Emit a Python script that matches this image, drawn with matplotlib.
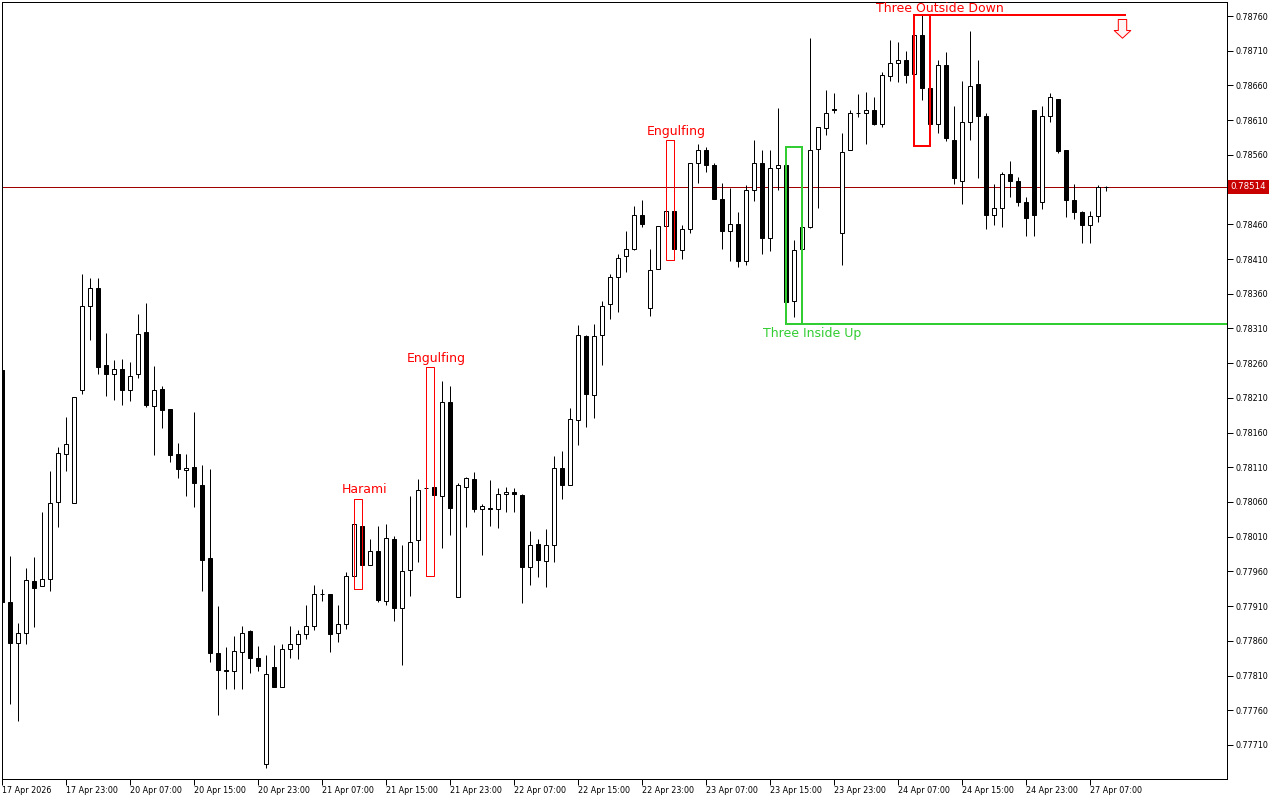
import numpy as np
import matplotlib
matplotlib.use('Agg')
import matplotlib.pyplot as plt
from matplotlib.path import Path
from matplotlib.patches import Rectangle

# hourly candles, 17 Apr 15:00 -> 27 Apr 09:00
opens = [0.78250, 0.77916, 0.77857, 0.77871, 0.77946, 0.77939, 0.77949, 0.78060, 0.78129, 0.78058,
         0.78221, 0.78342, 0.78368, 0.78257, 0.78244, 0.78251, 0.78222, 0.78244, 0.78305, 0.78198,
         0.78223, 0.78194, 0.78129, 0.78106, 0.78110, 0.78084, 0.77979, 0.77842, 0.77818, 0.77816,
         0.77844, 0.77874, 0.77835, 0.77682, 0.77822, 0.77793, 0.77848, 0.77855, 0.77870, 0.77881,
         0.77927, 0.77927, 0.77872, 0.77884, 0.77953, 0.78026, 0.77969, 0.77989, 0.77918, 0.78006,
         0.77907, 0.77962, 0.78005, 0.78080, 0.78082, 0.78068, 0.78204, 0.77923, 0.78081, 0.78093,
         0.78050, 0.78052, 0.78050, 0.78071, 0.78074, 0.78070, 0.77966, 0.77999, 0.77975, 0.77998,
         0.78109, 0.78084, 0.78178, 0.78299, 0.78214, 0.78300, 0.78345, 0.78384, 0.78414, 0.78425,
         0.78473, 0.78340, 0.78395, 0.78457, 0.78479, 0.78423, 0.78453, 0.78549, 0.78567, 0.78546,
         0.78496, 0.78451, 0.78460, 0.78407, 0.78510, 0.78549, 0.78440, 0.78541, 0.78546, 0.78350,
         0.78424, 0.78456, 0.78568, 0.78598, 0.78626, 0.78448, 0.78567, 0.78621, 0.78621, 0.78624,
         0.78605, 0.78673, 0.78692, 0.78696, 0.78676, 0.78732, 0.78657, 0.78605, 0.78690, 0.78582,
         0.78523, 0.78607, 0.78662, 0.78616, 0.78473, 0.78484, 0.78533, 0.78522, 0.78492, 0.78624,
         0.78492, 0.78616, 0.78641, 0.78567, 0.78495, 0.78477, 0.78459, 0.78472, 0.78514]
highs = [0.78253, 0.77982, 0.77885, 0.77965, 0.77981, 0.78046, 0.78105, 0.78139, 0.78182, 0.78211,
         0.78388, 0.78383, 0.78383, 0.78303, 0.78265, 0.78266, 0.78262, 0.78331, 0.78347, 0.78256,
         0.78227, 0.78194, 0.78145, 0.78129, 0.78190, 0.78113, 0.78108, 0.77910, 0.77851, 0.77867,
         0.77881, 0.77875, 0.77852, 0.77839, 0.77854, 0.77855, 0.77881, 0.77875, 0.77912, 0.77940,
         0.77935, 0.77927, 0.77911, 0.77959, 0.78064, 0.78056, 0.78006, 0.78025, 0.78029, 0.78011,
         0.77998, 0.78068, 0.78093, 0.78254, 0.78172, 0.78235, 0.78227, 0.78088, 0.78096, 0.78103,
         0.78057, 0.78091, 0.78080, 0.78081, 0.78080, 0.78071, 0.78018, 0.78006, 0.78021, 0.78126,
         0.78133, 0.78196, 0.78315, 0.78301, 0.78317, 0.78350, 0.78389, 0.78417, 0.78451, 0.78486,
         0.78495, 0.78425, 0.78457, 0.78484, 0.78581, 0.78459, 0.78549, 0.78575, 0.78572, 0.78549,
         0.78520, 0.78513, 0.78477, 0.78516, 0.78582, 0.78567, 0.78567, 0.78628, 0.78571, 0.78437,
         0.78483, 0.78729, 0.78600, 0.78654, 0.78649, 0.78592, 0.78624, 0.78647, 0.78650, 0.78644,
         0.78679, 0.78726, 0.78722, 0.78709, 0.78742, 0.78761, 0.78695, 0.78696, 0.78708, 0.78631,
         0.78667, 0.78739, 0.78696, 0.78621, 0.78518, 0.78535, 0.78551, 0.78528, 0.78500, 0.78624,
         0.78631, 0.78649, 0.78641, 0.78567, 0.78518, 0.78479, 0.78479, 0.78516, 0.78515]
lows = [0.77912, 0.77769, 0.77744, 0.77855, 0.77880, 0.77939, 0.77932, 0.78024, 0.78104, 0.78058,
        0.78216, 0.78294, 0.78245, 0.78213, 0.78207, 0.78200, 0.78206, 0.78238, 0.78197, 0.78127,
        0.78167, 0.78117, 0.78095, 0.78069, 0.78053, 0.77932, 0.77830, 0.77753, 0.77790, 0.77791,
        0.77791, 0.77814, 0.77817, 0.77677, 0.77793, 0.77793, 0.77836, 0.77834, 0.77862, 0.77875,
        0.77918, 0.77844, 0.77858, 0.77877, 0.77934, 0.77967, 0.77969, 0.77916, 0.77911, 0.77889,
        0.77825, 0.77924, 0.77973, 0.77953, 0.78046, 0.77994, 0.78012, 0.77923, 0.78024, 0.78046,
        0.77984, 0.78026, 0.78022, 0.78046, 0.78045, 0.77914, 0.77940, 0.77952, 0.77937, 0.77973,
        0.78065, 0.78084, 0.78142, 0.78168, 0.78181, 0.78258, 0.78323, 0.78334, 0.78392, 0.78423,
        0.78456, 0.78328, 0.78395, 0.78457, 0.78408, 0.78410, 0.78447, 0.78520, 0.78536, 0.78496,
        0.78425, 0.78407, 0.78399, 0.78402, 0.78493, 0.78417, 0.78421, 0.78510, 0.78316, 0.78326,
        0.78420, 0.78455, 0.78484, 0.78588, 0.78620, 0.78402, 0.78567, 0.78614, 0.78575, 0.78603,
        0.78600, 0.78666, 0.78665, 0.78663, 0.78663, 0.78639, 0.78573, 0.78592, 0.78580, 0.78518,
        0.78489, 0.78582, 0.78526, 0.78453, 0.78459, 0.78456, 0.78499, 0.78487, 0.78443, 0.78443,
        0.78482, 0.78607, 0.78562, 0.78470, 0.78467, 0.78433, 0.78433, 0.78464, 0.78508]
closes = [0.77916, 0.77857, 0.77871, 0.77947, 0.77936, 0.77949, 0.78058, 0.78130, 0.78143, 0.78211,
          0.78343, 0.78368, 0.78255, 0.78244, 0.78251, 0.78222, 0.78242, 0.78302, 0.78200, 0.78221,
          0.78193, 0.78128, 0.78108, 0.78109, 0.78087, 0.77977, 0.77842, 0.77818, 0.77816, 0.77845,
          0.77872, 0.77836, 0.77824, 0.77812, 0.77793, 0.77848, 0.77855, 0.77870, 0.77881, 0.77927,
          0.77927, 0.77870, 0.77884, 0.77953, 0.78028, 0.77969, 0.77989, 0.77919, 0.78008, 0.77908,
          0.77961, 0.78003, 0.78077, 0.78080, 0.78070, 0.78204, 0.78052, 0.78084, 0.78094, 0.78050,
          0.78054, 0.78050, 0.78071, 0.78074, 0.78071, 0.77967, 0.77998, 0.77977, 0.77998, 0.78109,
          0.78084, 0.78179, 0.78300, 0.78215, 0.78299, 0.78343, 0.78384, 0.78412, 0.78425, 0.78473,
          0.78461, 0.78394, 0.78457, 0.78479, 0.78425, 0.78453, 0.78549, 0.78567, 0.78546, 0.78496,
          0.78450, 0.78461, 0.78407, 0.78510, 0.78549, 0.78440, 0.78541, 0.78546, 0.78348, 0.78423,
          0.78456, 0.78567, 0.78600, 0.78621, 0.78624, 0.78564, 0.78621, 0.78621, 0.78624, 0.78604,
          0.78675, 0.78692, 0.78696, 0.78675, 0.78732, 0.78657, 0.78605, 0.78690, 0.78584, 0.78526,
          0.78608, 0.78659, 0.78616, 0.78473, 0.78484, 0.78533, 0.78522, 0.78492, 0.78469, 0.78474,
          0.78616, 0.78643, 0.78565, 0.78495, 0.78477, 0.78459, 0.78472, 0.78514, 0.78514]

time_labels = ['17 Apr 2026', '17 Apr 23:00', '20 Apr 07:00', '20 Apr 15:00', '20 Apr 23:00',
               '21 Apr 07:00', '21 Apr 15:00', '21 Apr 23:00', '22 Apr 07:00', '22 Apr 15:00',
               '22 Apr 23:00', '23 Apr 07:00', '23 Apr 15:00', '23 Apr 23:00', '24 Apr 07:00',
               '24 Apr 15:00', '24 Apr 23:00', '27 Apr 07:00']
price_ticks = [0.77710, 0.77760, 0.77810, 0.77860, 0.77910, 0.77960, 0.78010, 0.78060, 0.78110,
               0.78160, 0.78210, 0.78260, 0.78310, 0.78360, 0.78410, 0.78460, 0.78510, 0.78560,
               0.78610, 0.78660, 0.78710, 0.78760]
last_price = 0.78514

# patterns: name, first bar, last bar, colour
pat_names = ['Harami', 'Engulfing', 'Engulfing', 'Three Inside Up', 'Three Outside Down']
pat_start = [44, 53, 83, 98, 114]
pat_end = [45, 54, 84, 100, 116]
pat_colors = ['#ff0000', '#ff0000', '#ff0000', '#32cd32', '#ff0000']

PX = 0.72  # one pixel in points at dpi 100

o = np.array(opens); h = np.array(highs); l = np.array(lows); c = np.array(closes)
x = np.arange(len(o))

fig = plt.figure(figsize=(12.8, 8), dpi=100)
ax = fig.add_axes([2/1280, 21/800, 1225/1280, 777/800])
ax.set_xlim((2 - 2.3)/8, (1227 - 2.3)/8)
ax.set_ylim(0.776610, 0.787802)

# candles
ax.vlines(x, l, h, color='black', lw=PX, zorder=2)
up = c >= o
body_h = np.where(np.abs(c - o) < 1e-7, 1e-7, c - o)
ax.bar(x, body_h, bottom=o, width=0.5, color=np.where(up, 'white', 'black'),
       edgecolor='black', linewidth=PX, zorder=3)

# current price line + tag
ax.axhline(last_price, color='#a00000', lw=PX, zorder=1)
ax.annotate(f'{last_price:.5f}', xy=(1, last_price), xycoords=('axes fraction', 'data'),
            xytext=(2.5, 0), textcoords='offset points', ha='left', va='center',
            fontsize=6.2, color='white', zorder=10, annotation_clip=False,
            bbox=dict(boxstyle='square,pad=0.3', fc='#c80000', ec='none'))

# pattern boxes and labels
for name, i1, i2, col in zip(pat_names, pat_start, pat_end, pat_colors):
    hi = h[i1:i2+1].max(); lo = l[i1:i2+1].min()
    lw = 2*PX if name.startswith('Three') else PX
    ax.add_patch(Rectangle((i1, lo), i2 - i1, hi - lo, fill=False, ec=col, lw=lw, zorder=4))
    if name == 'Three Inside Up':
        ax.plot([i1, ax.get_xlim()[1]], [lo, lo], color=col, lw=lw, zorder=4, solid_capstyle='butt')
        ax.annotate(name, xy=(i2 + 1.25, lo), xytext=(0, -2), textcoords='offset points',
                    ha='center', va='top', fontsize=9, color=col)
    elif name == 'Three Outside Down':
        ax.plot([i1, 140.5], [hi, hi], color=col, lw=lw, zorder=4, solid_capstyle='butt')
        ax.annotate(name, xy=(i2 + 1.2, hi), xytext=(0, 0), textcoords='offset points',
                    ha='center', va='bottom', fontsize=9, color=col, annotation_clip=False)
        # hollow down arrow under the line
        verts = [(-4.2, -4), (4.2, -4), (4.2, -15), (8.3, -15), (0, -22.7),
                 (-8.3, -15), (-4.2, -15), (-4.2, -4)]
        ax.plot([140], [hi], marker=Path(verts, closed=True), markersize=2*22.7*PX,
                mfc='#fff4f4', mec=col, mew=PX, zorder=5)
    else:
        ax.annotate(name, xy=(i2 + 0.25, hi), xytext=(0, 2), textcoords='offset points',
                    ha='center', va='bottom', fontsize=9, color=col)

# axes styling
for s in ax.spines.values():
    s.set_linewidth(PX)
ax.set_xticks(x[::8][:len(time_labels)])
ax.set_xticklabels(time_labels, ha='left', fontsize=5.8)
ax.tick_params(axis='x', length=4, width=PX, pad=1)
ax.yaxis.tick_right()
# the price tag hides the tick next to it
shown = [p for p in price_ticks if abs(p - last_price) > 0.0001]
ax.set_yticks(shown)
ax.set_yticklabels([f'{p:.5f}' for p in shown], fontsize=5.8)
ax.tick_params(axis='y', length=4, width=PX, pad=2)

fig.savefig('out.png', dpi=100, facecolor='white')
